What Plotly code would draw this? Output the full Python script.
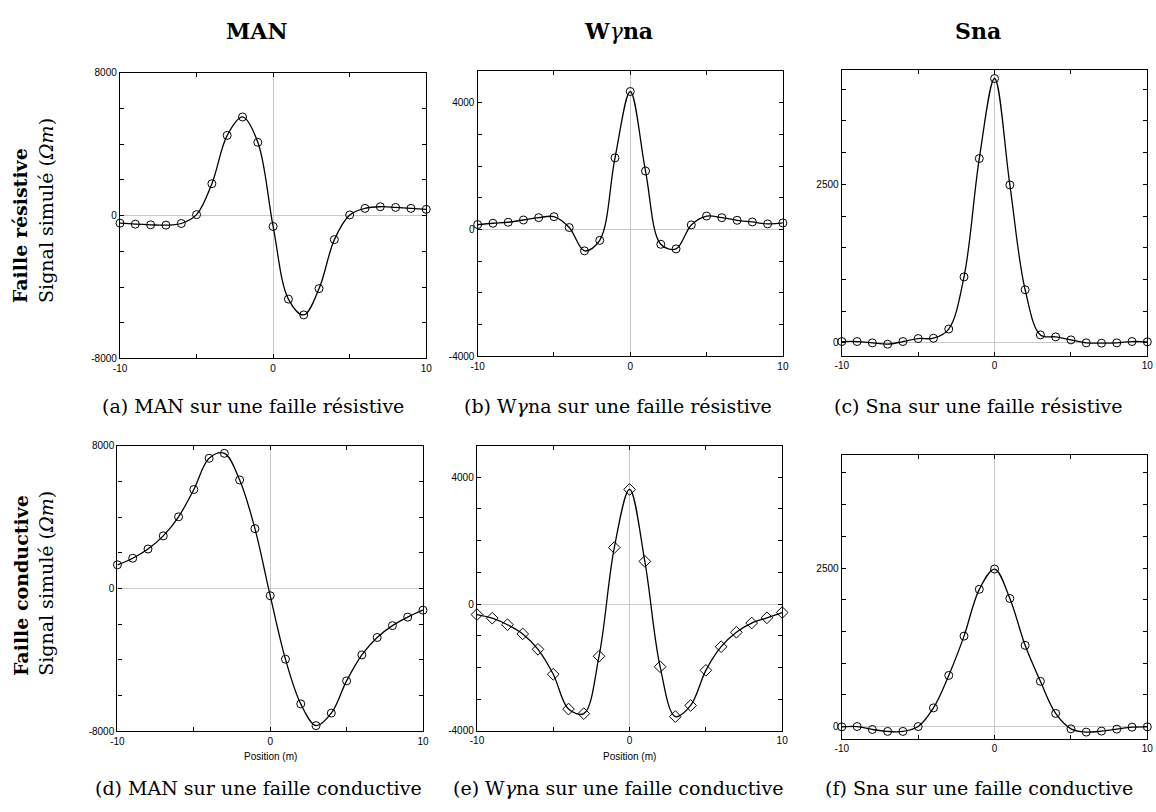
import plotly.graph_objects as go

# Profile positions (m)
positions = list(range(-10, 11))

# Simulated signal (Ohm.m) for each array over a resistive fault
man_resistive = [-424, -480, -516, -534, -442, 55, 1786, 4494, 5525, 4107, -608,
                 -4678, -5562, -4088, -1344, 37, 405, 497, 460, 405, 350]
wgna_resistive = [155, 197, 228, 300, 373, 404, 62, -673, -342, 2257, 4348,
                  1843, -466, -611, 145, 424, 373, 290, 238, 176, 207]
sna_resistive = [21, 21, 0, -21, 21, 68, 73, 218, 1040, 2906, 4168,
                 2490, 837, 125, 94, 47, 0, -5, 0, 21, 16]

# Simulated signal (Ohm.m) for each array over a conductive fault
man_conductive = [1326, 1694, 2210, 2947, 4015, 5543, 7293, 7569, 6077, 3352, -405,
                  -3959, -6464, -7680, -6980, -5175, -3720, -2744, -2081, -1602, -1215]
wgna_conductive = [-332, -446, -653, -943, -1430, -2218, -3316, -3461, -1648, 1782, 3617,
                   1347, -1979, -3554, -3202, -2093, -1347, -891, -601, -435, -269]
sna_conductive = [-5, 0, -46, -77, -77, 0, 294, 806, 1426, 2164, 2484,
                  2020, 1281, 713, 207, -36, -88, -72, -41, -10, -5]

column_titles = ["<b>MAN</b>", "<b>W</b><i>γ</i><b>na</b>", "<b>Sna</b>"]
captions = [
    "(a) MAN sur une faille résistive",
    "(b) W<i>γ</i>na sur une faille résistive",
    "(c) Sna sur une faille résistive",
    "(d) MAN sur une faille conductive",
    "(e) W<i>γ</i>na sur une faille conductive",
    "(f) Sna sur une faille conductive",
]
row_titles = ["<b>Faille résistive</b>", "<b>Faille conductive</b>"]
y_title = "Signal simulé (<i>Ωm</i>)"

x_ticks = [-10, -5, 0, 5, 10]
x_ticktext = ["-10", "", "0", "", "10"]

W, H = 1156, 812
SERIF = "DejaVu Serif"
SANS = "Liberation Sans"


def px_x(a, b):
    return [a / W, b / W]


def px_y(top, bottom):
    return [1 - bottom / H, 1 - top / H]


man_ticks = list(range(-8000, 8001, 2000))
man_text = ["-8000", "", "", "", "0", "", "", "", "8000"]
wgna_ticks = list(range(-4000, 5001, 1000))
wgna_text = ["-4000", "", "", "", "0", "", "", "", "4000", ""]
sna_ticks = list(range(0, 4001, 500))
sna_text = ["0", "", "", "", "", "2500", "", "", ""]

panels = [
    # data, marker, x px span, y px span, y range, y ticks, y labels, x title
    (man_resistive, "circle-open", (114.3, 424), (68.7, 358.3), [-8000, 8000], man_ticks, man_text, False),
    (wgna_resistive, "circle-open", (476, 784.7), (66.7, 356.3), [-4000, 5000], wgna_ticks, wgna_text, False),
    (sna_resistive, "circle-open", (844.3, 1153.3), (65.7, 356), [-210, 4305], sna_ticks, sna_text, False),
    (man_conductive, "circle-open", (111.7, 420.7), (446.7, 736.3), [-8000, 8000], man_ticks, man_text, True),
    (wgna_conductive, "diamond-open", (475.3, 784), (446.7, 735.7), [-4000, 5000], wgna_ticks, wgna_text, True),
    (sna_conductive, "circle-open", (844.3, 1153.3), (455.7, 744.3), [-200, 4290], sna_ticks, sna_text, False),
]

fig = go.Figure()
layout_axes = {}
annotations = []

for i, (vals, sym, xs, ys, yrng, yt, ytt, xtitle) in enumerate(panels, start=1):
    xa = "x" if i == 1 else f"x{i}"
    ya = "y" if i == 1 else f"y{i}"
    fig.add_trace(go.Scatter(
        x=positions, y=vals, xaxis=xa, yaxis=ya,
        mode="lines+markers",
        line=dict(color="black", width=1.3, shape="spline", smoothing=1.0),
        marker=dict(symbol=sym, size=9 if sym.startswith("diamond") else 8,
                    color="black", line=dict(width=1, color="black")),
        cliponaxis=False, showlegend=False, hoverinfo="x+y",
    ))
    common = dict(
        showline=True, linecolor="black", linewidth=1.4, mirror="ticks",
        ticks="inside", ticklen=4, tickwidth=1, tickcolor="black",
        showgrid=False, zeroline=True, zerolinecolor="#c8c8c8", zerolinewidth=1,
        tickfont=dict(family=SANS, size=10, color="black"), fixedrange=True,
    )
    xkey = "xaxis" if i == 1 else f"xaxis{i}"
    ykey = "yaxis" if i == 1 else f"yaxis{i}"
    layout_axes[xkey] = dict(common, domain=px_x(*xs), anchor=ya, range=[-10, 10],
                             tickmode="array", tickvals=x_ticks, ticktext=x_ticktext)
    layout_axes[ykey] = dict(common, domain=px_y(*ys), anchor=xa, range=yrng,
                             tickmode="array", tickvals=yt, ticktext=ytt)
    if xtitle:
        annotations.append(dict(
            text="Position (m)", xref="paper", yref="paper",
            x=(xs[0] + xs[1]) / 2 / W, y=1 - 762 / H, xanchor="center", yanchor="middle",
            showarrow=False, font=dict(family=SANS, size=10, color="black")))

# Column headers
for text, cx in zip(column_titles, [253, 618, 982]):
    annotations.append(dict(text=text, xref="paper", yref="paper", x=cx / W, y=1 - 26 / H,
                            xanchor="center", yanchor="middle", showarrow=False,
                            font=dict(family=SERIF, size=22, color="black")))

# Sub-figure captions
for text, cx, cy in zip(captions, [249, 618, 982, 254, 618, 983], [406, 406, 406, 794, 794, 794]):
    annotations.append(dict(text=text, xref="paper", yref="paper", x=cx / W, y=1 - cy / H,
                            xanchor="center", yanchor="middle", showarrow=False,
                            font=dict(family=SERIF, size=19, color="black")))

# Row labels (rotated)
for title, bottom in zip(row_titles, [304, 682]):
    annotations.append(dict(text=title, xref="paper", yref="paper", x=14 / W, y=1 - bottom / H,
                            xanchor="center", yanchor="bottom", textangle=-90, showarrow=False,
                            font=dict(family=SERIF, size=19, color="black")))
    annotations.append(dict(text=y_title, xref="paper", yref="paper", x=40 / W, y=1 - bottom / H,
                            xanchor="center", yanchor="bottom", textangle=-90, showarrow=False,
                            font=dict(family=SERIF, size=19, color="black")))

fig.update_layout(
    width=W, height=H, margin=dict(l=0, r=0, t=0, b=0),
    paper_bgcolor="white", plot_bgcolor="white",
    annotations=annotations, **layout_axes,
)

fig.write_html("out.html")
